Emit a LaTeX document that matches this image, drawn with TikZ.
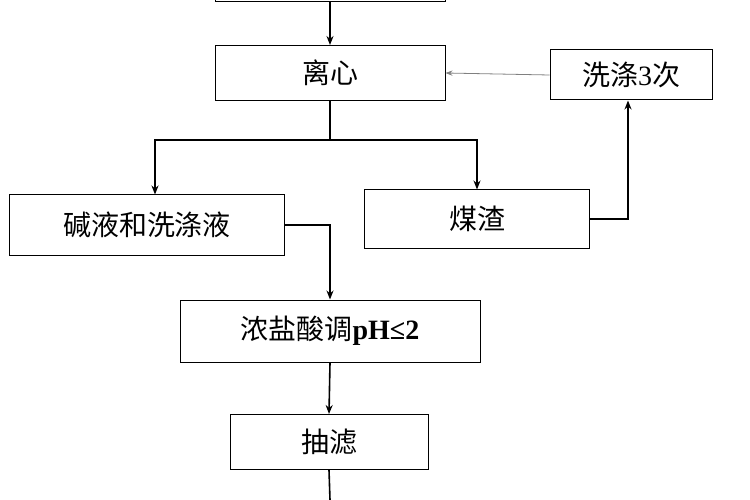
\documentclass[tikz,border=0pt]{standalone}
\usepackage{fontspec}
\newfontfamily\cjk{Noto Sans CJK SC}
\newfontfamily\lser{Liberation Serif}
\usetikzlibrary{arrows.meta}
\begin{document}
\begin{tikzpicture}[x=1pt,y=-1pt,
  box/.style={draw,line width=1pt,font=\cjk\fontsize{28}{32}\selectfont,inner sep=0},
  arr/.style={line width=1.6pt,-{Stealth[length=9pt,width=7pt]}}]
\useasboundingbox (0,0) rectangle (750,500);
\node[box,minimum width=230,minimum height=40] (top) at (330,-18) {};
\node[box,minimum width=230,minimum height=55] (lx) at (330,73) {离心};
\node[box,minimum width=162,minimum height=50] (xd) at (631,75) {洗涤{\lser 3}次};
\node[box,minimum width=275,minimum height=60] (jy) at (147,225) {碱液和洗涤液};
\node[box,minimum width=225,minimum height=58] (mz) at (477,219) {煤渣};
\node[box,minimum width=300,minimum height=62] (ns) at (330,331) {浓盐酸调{\lser\bfseries pH≤2}};
\node[box,minimum width=198,minimum height=55] (cl) at (329,442) {抽滤};
\coordinate (bot) at (330,500);
\coordinate (sp) at (330,140);
\draw[arr] (top.south) -- (lx.north);
\draw[gray,line width=0.8pt,-{Stealth[length=7pt]}] (xd.west) -- (lx.east);
\draw[line width=1.6pt] (lx.south) -- (sp);
\draw[arr] (sp) -| ([xshift=8pt]jy.north);
\draw[arr] (sp) -| (mz.north);
\draw[arr] (mz.east) -| ([xshift=-3pt]xd.south);
\draw[arr] (jy.east) -| (ns.north);
\draw[arr] (ns.south) -- (cl.north);
\draw[line width=1.6pt] (cl.south) -- (bot);
\end{tikzpicture}
\end{document}
